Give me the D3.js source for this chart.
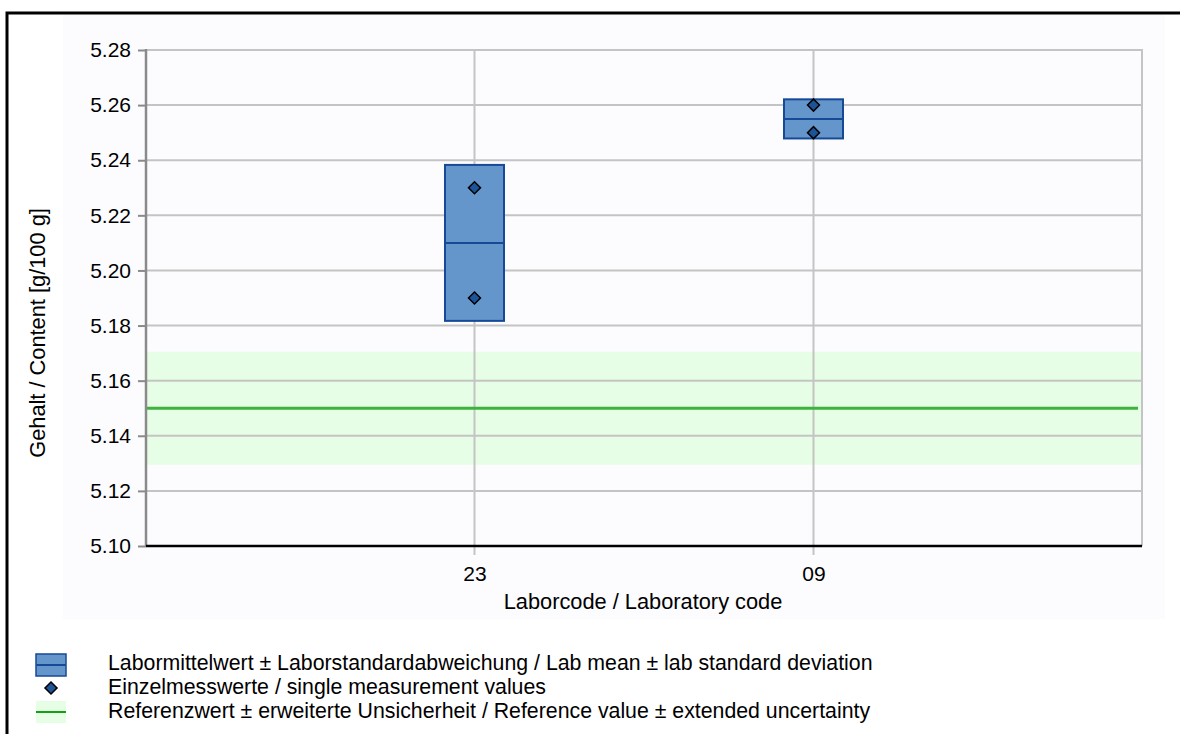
<!DOCTYPE html>
<html>
<head>
<meta charset="utf-8">
<script src="https://cdn.jsdelivr.net/npm/d3@7"></script>
<style>
  html, body { margin: 0; padding: 0; background: #ffffff; }
  svg { display: block; font-family: "Liberation Sans", Arial, sans-serif; }
</style>
</head>
<body>
<svg id="chart" width="1180" height="734"></svg>
<script>
// Laboratory codes along the x axis
const labCodes = ["23", "09"];
// Lab means and lab standard deviations
const labMeans = [5.21, 5.255];
const labSDs = [0.0283, 0.0071];
// Individual measurements per lab
const singleValues = [[5.23, 5.19], [5.26, 5.25]];
// Reference value and its expanded uncertainty
const refValue = 5.15;
const refUncertainty = 0.0205;
// Y axis ticks
const yTicks = [5.10, 5.12, 5.14, 5.16, 5.18, 5.20, 5.22, 5.24, 5.26, 5.28];
// Legend entries
const legendLabels = [
  "Labormittelwert ± Laborstandardabweichung / Lab mean ± lab standard deviation",
  "Einzelmesswerte / single measurement values",
  "Referenzwert ± erweiterte Unsicherheit / Reference value ± extended uncertainty"
];

const FS = 21;
const FS_TITLE = 21.8;
const FS_LEGEND = 21.3;
const svg = d3.select("#chart");
const plot = { left: 146, right: 1142, top: 50, bottom: 546 };

const x = d3.scalePoint().domain(labCodes).range([plot.left, plot.right]).padding(0.969);
const y = d3.scaleLinear().domain([5.10, 5.28]).range([plot.bottom, plot.top]);

// outer frame (left and top edges)
svg.append("path").attr("d", "M7,734 V13 H1180")
  .attr("fill", "none").attr("stroke", "#000").attr("stroke-width", 3);

// faint chart background
svg.append("rect").attr("x", 63).attr("y", 15).attr("width", 1102).attr("height", 604)
  .attr("fill", "#fcfcff");

// reference uncertainty band
svg.append("rect")
  .attr("x", plot.left).attr("width", plot.right + 1 - plot.left)
  .attr("y", y(refValue + refUncertainty))
  .attr("height", y(refValue - refUncertainty) - y(refValue + refUncertainty))
  .attr("fill", "#e6fde6");

// horizontal grid lines
svg.append("g").selectAll("line").data(yTicks.slice(1)).join("line")
  .attr("x1", plot.left).attr("x2", plot.right)
  .attr("y1", d => y(d)).attr("y2", d => y(d))
  .attr("stroke", "#c4c4c4").attr("stroke-width", 2);

// vertical grid lines at lab codes
svg.append("g").selectAll("line").data(labCodes).join("line")
  .attr("x1", d => x(d)).attr("x2", d => x(d))
  .attr("y1", plot.top).attr("y2", plot.bottom + 9)
  .attr("stroke", "#c4c4c4").attr("stroke-width", 2);

// right plot border
svg.append("line").attr("x1", plot.right).attr("x2", plot.right)
  .attr("y1", plot.top - 1).attr("y2", plot.bottom)
  .attr("stroke", "#c4c4c4").attr("stroke-width", 2);

// reference line
svg.append("line")
  .attr("x1", plot.left).attr("x2", plot.right - 4)
  .attr("y1", y(refValue)).attr("y2", y(refValue))
  .attr("stroke", "#3db33d").attr("stroke-width", 3);

// y axis
const yAxis = d3.axisLeft(y).tickValues(yTicks).tickFormat(d3.format(".2f")).tickSize(8).tickPadding(7);
const yg = svg.append("g").attr("transform", `translate(${plot.left},0)`).call(yAxis);
yg.select(".domain").attr("stroke", "#8a8a8a").attr("stroke-width", 2.5)
  .attr("d", `M0,${plot.top - 1}V${plot.bottom}`);
yg.selectAll(".tick line").attr("stroke", "#8a8a8a").attr("stroke-width", 2);
yg.selectAll(".tick text").attr("font-size", FS).attr("fill", "#000");

// x axis
const xAxis = d3.axisBottom(x).tickSize(0).tickPadding(20);
const xg = svg.append("g").attr("transform", `translate(0,${plot.bottom})`).call(xAxis);
xg.select(".domain").attr("stroke", "#000").attr("stroke-width", 2.5)
  .attr("d", `M${plot.left},0H${plot.right}`);
xg.selectAll(".tick text").attr("font-size", FS).attr("fill", "#000");

// lab mean ± SD boxes
const boxW = 59;
const boxes = svg.append("g").selectAll("g").data(labCodes).join("g");
boxes.append("rect")
  .attr("x", d => x(d) - boxW / 2).attr("width", boxW)
  .attr("y", (d, i) => y(labMeans[i] + labSDs[i]))
  .attr("height", (d, i) => y(labMeans[i] - labSDs[i]) - y(labMeans[i] + labSDs[i]))
  .attr("fill", "#6495cb").attr("stroke", "#164a96").attr("stroke-width", 2);
boxes.append("line")
  .attr("x1", d => x(d) - boxW / 2).attr("x2", d => x(d) + boxW / 2)
  .attr("y1", (d, i) => y(labMeans[i])).attr("y2", (d, i) => y(labMeans[i]))
  .attr("stroke", "#164a96").attr("stroke-width", 2);

// single measurement diamonds
const diamond = d3.symbol().type(d3.symbolSquare).size(72);
const points = labCodes.flatMap((c, i) => singleValues[i].map(v => ({ c, v })));
svg.append("g").selectAll("path").data(points).join("path")
  .attr("d", diamond)
  .attr("transform", d => `translate(${x(d.c)},${y(d.v)}) rotate(45)`)
  .attr("fill", "#1c5497").attr("stroke", "#000").attr("stroke-width", 1.5);

// axis titles
svg.append("text").attr("x", 643).attr("y", 609).attr("text-anchor", "middle")
  .attr("font-size", FS_TITLE).text("Laborcode / Laboratory code");
svg.append("text").attr("transform", "translate(45,333) rotate(-90)")
  .attr("text-anchor", "middle").attr("font-size", FS_TITLE).text("Gehalt / Content [g/100 g]");

// legend
const lg = svg.append("g");
lg.append("rect").attr("x", 36).attr("y", 654).attr("width", 30).attr("height", 22)
  .attr("fill", "#6495cb").attr("stroke", "#164a96").attr("stroke-width", 1.5);
lg.append("line").attr("x1", 36).attr("x2", 66).attr("y1", 665).attr("y2", 665)
  .attr("stroke", "#164a96").attr("stroke-width", 2);
lg.append("path").attr("d", diamond).attr("transform", "translate(51,688) rotate(45)")
  .attr("fill", "#1c5497").attr("stroke", "#000").attr("stroke-width", 1.5);
lg.append("rect").attr("x", 36).attr("y", 701).attr("width", 30).attr("height", 22)
  .attr("fill", "#e6fde6");
lg.append("line").attr("x1", 36).attr("x2", 66).attr("y1", 712).attr("y2", 712)
  .attr("stroke", "#14a014").attr("stroke-width", 2);
lg.selectAll("text.leg").data(legendLabels).join("text")
  .attr("class", "leg")
  .attr("x", 108).attr("y", (d, i) => 670 + i * 24)
  .attr("font-size", FS_LEGEND).text(d => d);
</script>
</body>
</html>
